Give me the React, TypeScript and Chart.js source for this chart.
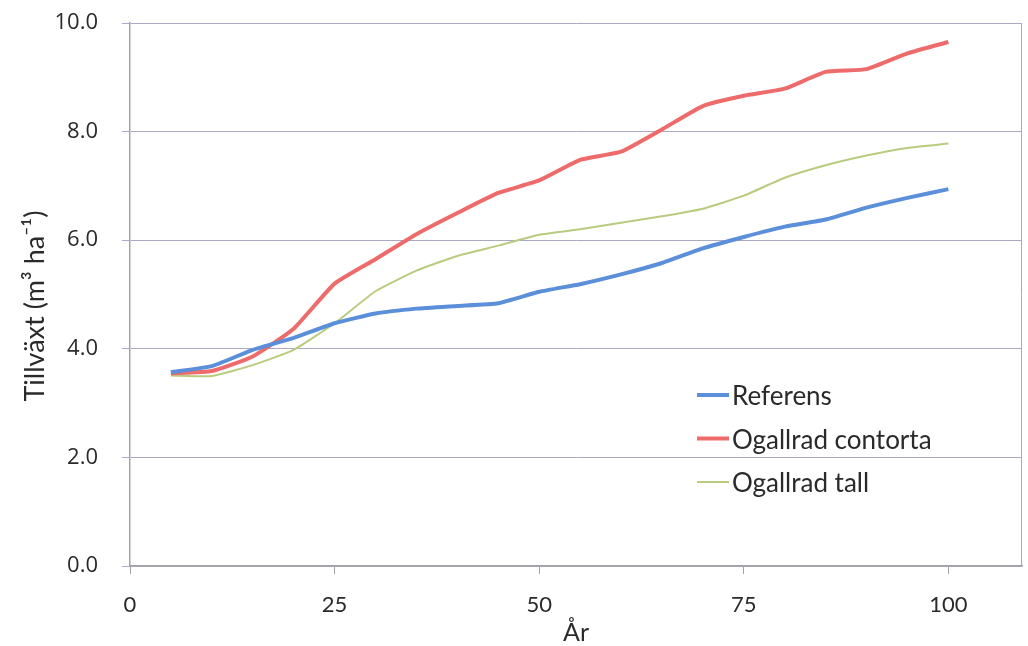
import React, { useEffect, useRef } from "react";
import { Chart, registerables } from "chart.js";

Chart.register(...registerables);

const years = [5, 10, 15, 20, 25, 30, 35, 40, 45, 50, 55, 60, 65, 70, 75, 80, 85, 90, 95, 100];
const referens = [3.57, 3.68, 3.98, 4.2, 4.47, 4.65, 4.74, 4.79, 4.84, 5.05, 5.19, 5.37, 5.58, 5.85, 6.06, 6.25, 6.38, 6.6, 6.78, 6.94];
const contorta = [3.55, 3.59, 3.86, 4.37, 5.2, 5.65, 6.11, 6.5, 6.87, 7.1, 7.48, 7.63, 8.04, 8.47, 8.66, 8.79, 9.1, 9.15, 9.44, 9.65];
const tall = [3.51, 3.5, 3.7, 3.98, 4.47, 5.06, 5.44, 5.71, 5.9, 6.1, 6.2, 6.32, 6.44, 6.58, 6.82, 7.15, 7.38, 7.56, 7.7, 7.78];
const seriesLabels = ["Referens", "Ogallrad contorta", "Ogallrad tall"];
const seriesColors = ["#5b8fd9", "#ee6b6c", "#b9cb7e"];
const seriesWidths = [4, 4, 2];
const xTicks = [0, 25, 50, 75, 100];
const yTitle = "Tillväxt (m³ ha⁻¹)";
const xTitle = "År";

const GRID = "#a9a9c6";
const AXIS = "#a3a3a3";
const TEXT = "#2a2a2a";

const frameAndLabels = {
  id: "frameAndLabels",
  afterDraw(chart: any) {
    const { ctx, chartArea } = chart;
    ctx.save();
    // right frame line
    ctx.strokeStyle = GRID;
    ctx.lineWidth = 1;
    ctx.beginPath();
    ctx.moveTo(chartArea.right - 0.5, chartArea.top);
    ctx.lineTo(chartArea.right - 0.5, chartArea.bottom);
    ctx.stroke();
    // legend inside plot
    const lx = chartArea.left + 567;
    const ly = chartArea.top + 372;
    ctx.font = "26px Lato";
    ctx.textBaseline = "middle";
    ctx.textAlign = "left";
    chart.data.datasets.forEach((ds: any, i: number) => {
      const y = ly + i * 43.5;
      ctx.strokeStyle = ds.borderColor;
      ctx.lineWidth = ds.borderWidth;
      ctx.beginPath();
      ctx.moveTo(lx, y);
      ctx.lineTo(lx + 32, y);
      ctx.stroke();
      ctx.fillStyle = TEXT;
      ctx.fillText(ds.label, lx + 35, y + 2);
    });
    // y axis title
    ctx.translate(35, 306);
    ctx.rotate(-Math.PI / 2);
    ctx.textAlign = "center";
    ctx.font = "27px Lato";
    ctx.fillStyle = TEXT;
    ctx.fillText(yTitle, 0, 0);
    ctx.restore();
  },
};

export default function App() {
  const ref = useRef<HTMLCanvasElement>(null);
  useEffect(() => {
    document.body.style.margin = "0";
    const datasets = [referens, contorta, tall].map((vals, i) => ({
      label: seriesLabels[i],
      data: vals.map((v, j) => ({ x: years[j], y: v })),
      borderColor: seriesColors[i],
      backgroundColor: seriesColors[i],
      borderWidth: seriesWidths[i],
      pointRadius: 0,
      tension: 0.15,
      fill: false,
    }));
    const chart = new Chart(ref.current as HTMLCanvasElement, {
      type: "line",
      data: { datasets },
      plugins: [frameAndLabels],
      options: {
        animation: false,
        responsive: false,
        layout: { padding: { top: 23, right: 6, left: 0, bottom: 0 } },
        plugins: { legend: { display: false }, tooltip: { enabled: false } },
        scales: {
          x: {
            type: "linear",
            min: 0,
            max: 109,
            afterFit: (s: any) => {
              s.height = 80;
              s.paddingLeft = 0;
              s.paddingRight = 0;
            },
            afterBuildTicks: (s: any) => {
              s.ticks = xTicks.map((v) => ({ value: v }));
            },
            ticks: {
              color: TEXT,
              font: { family: "Lato", size: 22 },
              padding: 18,
              maxRotation: 0,
            },
            grid: { drawOnChartArea: false, color: AXIS, tickLength: 8 },
            border: { color: AXIS, width: 1.5 },
            title: {
              display: true,
              text: xTitle,
              color: TEXT,
              font: { family: "Lato", size: 25 },
              padding: { top: 0, bottom: -2 },
            },
          },
          y: {
            min: 0,
            max: 10,
            afterFit: (s: any) => {
              s.width = 130;
              s.paddingTop = 0;
              s.paddingBottom = 0;
            },
            ticks: {
              stepSize: 2,
              color: TEXT,
              font: { family: "Open Sans", size: 22 },
              padding: 24,
              callback: (v: any) => Number(v).toFixed(1),
            },
            grid: { color: GRID, tickLength: 8 },
            border: { color: AXIS, width: 1.5 },
          },
        },
      },
    });
    return () => chart.destroy();
  }, []);
  return <canvas ref={ref} width={1028} height={646} style={{ display: "block" }} />;
}
